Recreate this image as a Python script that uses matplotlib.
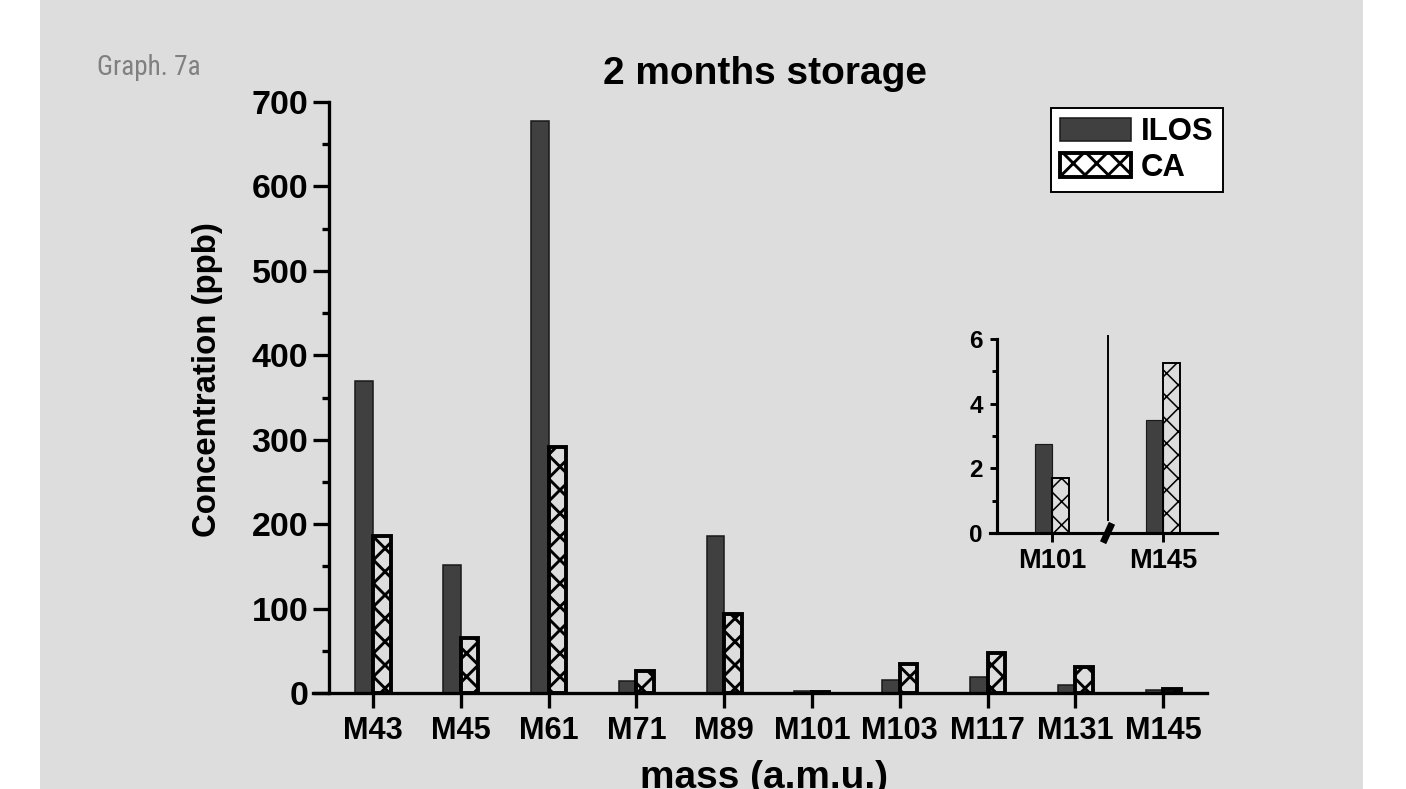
import matplotlib
matplotlib.use("Agg")
import matplotlib.pyplot as plt
from matplotlib.patches import Rectangle
from matplotlib.ticker import MultipleLocator
import numpy as np

# ---- data -------------------------------------------------------------
categories = ["M43", "M45", "M61", "M71", "M89", "M101", "M103", "M117", "M131", "M145"]
ilos = [370, 152, 678, 14, 186, 2.75, 15, 18.5, 9.5, 3.5]
ca = [186, 65.5, 291, 26, 93, 1.7, 34, 47, 31, 5.27]

inset_categories = ["M101", "M145"]
inset_ilos = [2.75, 3.5]
inset_ca = [1.7, 5.27]

main_yticks = [0, 100, 200, 300, 400, 500, 600, 700]
inset_yticks = [0, 2, 4, 6]

# ---- style --------------------------------------------------------------
DPI = 140
W, H = 1406, 789
plt.rcParams["font.family"] = ["Liberation Sans", "DejaVu Sans"]
plt.rcParams["font.weight"] = "bold"
plt.rcParams["hatch.linewidth"] = 1.5
plt.rcParams["hatch.color"] = "black"

DARK = "#404040"
BG = "#dddddd"
HATCH = "xx"

fig = plt.figure(figsize=(W / DPI, H / DPI), dpi=DPI)
fig.patch.set_facecolor("white")
fig.patches.append(Rectangle((40 / W, 0), (1363 - 40) / W, 1, transform=fig.transFigure,
                             facecolor=BG, edgecolor="none", zorder=-10))


def px_axes(x0, y0, x1, y1):
    """Axes rectangle given pixel corners (top-left origin)."""
    return fig.add_axes([x0 / W, 1 - y1 / H, (x1 - x0) / W, (y1 - y0) / H])


# ---- main chart ------------------------------------------------------------
ax = px_axes(313, 102, 1207, 693)
ax.set_facecolor("none")
x = np.arange(len(categories))
bw = 0.2
b1 = ax.bar(x - bw / 2, ilos, width=bw, color=DARK, edgecolor="#1a1a1a", linewidth=0.8)
b2 = ax.bar(x + bw / 2, ca, width=bw, facecolor="none", edgecolor="black",
            linewidth=2.0, hatch=HATCH)

ax.set_xlim(-0.683, 9.5)
ax.set_ylim(0, 700)
for s in ("top", "right"):
    ax.spines[s].set_visible(False)
ax.spines["left"].set_position(("data", -0.5))
ax.spines["left"].set_linewidth(1.7)
ax.spines["bottom"].set_linewidth(1.7)

ax.set_xticks(x, categories)
ax.set_yticks(main_yticks)
ax.yaxis.set_minor_locator(MultipleLocator(50))
ax.tick_params(axis="x", length=7.7, width=1.7, pad=4, labelsize=15.8)
ax.tick_params(axis="y", which="major", length=8.2, width=1.7, pad=2.5, labelsize=17.5)
ax.tick_params(axis="y", which="minor", length=3.6, width=1.7)

ax.set_ylabel("Concentration (ppb)", fontsize=17, fontweight="bold")
ax.yaxis.set_label_coords(-0.1007, 0.5296)
ax.set_xlabel("mass (a.m.u.)", fontsize=20, fontweight="bold")
ax.xaxis.set_label_coords(0.5045, -0.113)

ax.text(0.5056, 1.03, "2 months storage", transform=ax.transAxes, ha="center",
        va="baseline", fontsize=20, fontweight="bold")

leg = ax.legend([b1, b2], ["ILOS", "CA"], loc="upper left",
                bbox_to_anchor=(1051 / W, 1 - 108 / H), bbox_transform=fig.transFigure,
                borderaxespad=0, fontsize=16, handlelength=2.28, handleheight=0.8,
                handletextpad=0.32, borderpad=0.3, labelspacing=0.18,
                fancybox=False, framealpha=1, edgecolor="black")
leg.get_frame().set_linewidth(1.0)

# ---- inset -----------------------------------------------------------------
axin = px_axes(990, 339, 1217, 533)
axin.set_facecolor("none")
xi = np.arange(len(inset_categories))
iw = 0.15
axin.bar(xi - iw / 2, inset_ilos, width=iw, color=DARK, edgecolor="#1a1a1a", linewidth=0.6)
cb = axin.bar(xi + iw / 2, inset_ca, width=iw, facecolor="none", edgecolor="black",
              linewidth=1.0, hatch=HATCH)
for p in cb:
    if hasattr(p, "set_hatch_linewidth"):
        p.set_hatch_linewidth(0.8)

axin.set_xlim(-0.5586, 1.486)
axin.set_ylim(0, 6)
for s in ("top", "right"):
    axin.spines[s].set_visible(False)
axin.spines["left"].set_position(("data", -0.5))
axin.spines["left"].set_linewidth(1.6)
axin.spines["bottom"].set_linewidth(1.6)
axin.set_xticks(xi, inset_categories)
axin.set_yticks(inset_yticks)
axin.yaxis.set_minor_locator(MultipleLocator(1))
axin.tick_params(axis="x", length=4.6, width=1.5, pad=3, labelsize=14)
axin.tick_params(axis="y", which="major", length=3.6, width=1.5, pad=3.5, labelsize=12.5)
axin.tick_params(axis="y", which="minor", length=2.5, width=1.5)

# separator between the two groups with an axis break mark
axin.plot([0.5, 0.5], [0.4, 6.1], color="black", linewidth=1.0, clip_on=False)
axin.plot([0.46, 0.54], [-0.3, 0.3], color="black", linewidth=3.5,
          solid_capstyle="butt", clip_on=False)

fig.text(97 / W, 1 - 75 / H, "Graph. 7a", color="#808080", fontsize=14,
         fontweight="normal", family=["Roboto Condensed", "Liberation Sans Narrow", "Liberation Sans"],
         va="baseline", ha="left")

fig.savefig("out.png", dpi=DPI)
